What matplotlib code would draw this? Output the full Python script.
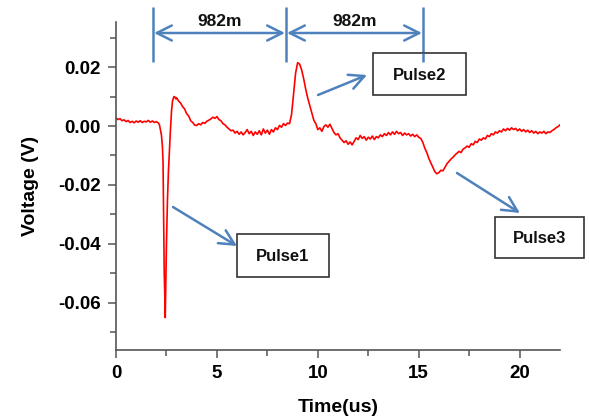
import matplotlib
matplotlib.use("Agg")
import matplotlib.pyplot as plt
from matplotlib.patches import Rectangle, FancyArrowPatch
from matplotlib.ticker import MultipleLocator

plt.rcParams['font.family'] = ['Liberation Sans', 'DejaVu Sans']

# Recorded waveform: time (us) and voltage (V)
time_us = [
    0.0, 0.1, 0.2, 0.3, 0.4, 0.5, 0.6, 0.7, 0.8, 0.9,
    1.0, 1.1, 1.2, 1.3, 1.4, 1.5, 1.6, 1.7, 1.8, 1.9,
    2.0, 2.1, 2.15, 2.2, 2.25, 2.3, 2.33, 2.36, 2.39, 2.42,
    2.44, 2.46, 2.5, 2.55, 2.6, 2.65, 2.7, 2.75, 2.8, 2.87,
    2.92, 2.97, 3.0, 3.1, 3.2, 3.3, 3.4, 3.5, 3.6, 3.7,
    3.8, 3.9, 4.0, 4.1, 4.2, 4.3, 4.4, 4.5, 4.6, 4.7,
    4.8, 4.9, 5.0, 5.1, 5.2, 5.3, 5.4, 5.5, 5.6, 5.7,
    5.8, 5.9, 6.0, 6.1, 6.2, 6.3, 6.4, 6.5, 6.6, 6.7,
    6.8, 6.9, 7.0, 7.1, 7.2, 7.3, 7.4, 7.5, 7.6, 7.7,
    7.8, 7.9, 8.0, 8.1, 8.2, 8.3, 8.4, 8.5, 8.6, 8.7,
    8.8, 8.9, 9.0, 9.1, 9.2, 9.3, 9.4, 9.5, 9.6, 9.7,
    9.8, 9.9, 10.0, 10.1, 10.2, 10.3, 10.4, 10.5, 10.6, 10.7,
    10.8, 10.9, 11.0, 11.1, 11.2, 11.3, 11.4, 11.5, 11.6, 11.7,
    11.8, 11.9, 12.0, 12.1, 12.2, 12.3, 12.4, 12.5, 12.6, 12.7,
    12.8, 12.9, 13.0, 13.1, 13.2, 13.3, 13.4, 13.5, 13.6, 13.7,
    13.8, 13.9, 14.0, 14.1, 14.2, 14.3, 14.4, 14.5, 14.6, 14.7,
    14.8, 14.9, 15.0, 15.1, 15.2, 15.3, 15.4, 15.5, 15.6, 15.7,
    15.8, 15.9, 16.0, 16.1, 16.2, 16.3, 16.4, 16.5, 16.6, 16.7,
    16.8, 16.9, 17.0, 17.1, 17.2, 17.3, 17.4, 17.5, 17.6, 17.7,
    17.8, 17.9, 18.0, 18.1, 18.2, 18.3, 18.4, 18.5, 18.6, 18.7,
    18.8, 18.9, 19.0, 19.1, 19.2, 19.3, 19.4, 19.5, 19.6, 19.7,
    19.8, 19.9, 20.0, 20.1, 20.2, 20.3, 20.4, 20.5, 20.6, 20.7,
    20.8, 20.9, 21.0, 21.1, 21.2, 21.3, 21.4, 21.5, 21.6, 21.7,
    21.8, 21.9, 22.0,
]
voltage_v = [
    0.0028, 0.0022, 0.0025, 0.0018, 0.0021, 0.0015, 0.0019, 0.0012, 0.0016, 0.0011,
    0.0017, 0.0013, 0.0018, 0.0012, 0.0016, 0.0014, 0.0019, 0.0013, 0.0017, 0.0012,
    0.0015, 0.0010, 0.0005, -0.0012, -0.0030, -0.0070, -0.0120, -0.0300, -0.0500, -0.0580,
    -0.0650, -0.0560, -0.0400, -0.0250, -0.0150, -0.0080, -0.0010, 0.0050, 0.0085, 0.0100,
    0.0098, 0.0092, 0.0096, 0.0085, 0.0078, 0.0066, 0.0058, 0.0042, 0.0034, 0.0018,
    0.0012, 0.0003, 0.0002, 0.0008, 0.0004, 0.0012, 0.0009, 0.0016, 0.0020, 0.0024,
    0.0030, 0.0026, 0.0032, 0.0022, 0.0018, 0.0008, 0.0004, -0.0004, -0.0010, -0.0016,
    -0.0014, -0.0024, -0.0018, -0.0028, -0.0020, -0.0030, -0.0022, -0.0012, -0.0026, -0.0018,
    -0.0032, -0.0020, -0.0028, -0.0016, -0.0030, -0.0010, -0.0024, -0.0014, -0.0028, -0.0012,
    -0.0020, -0.0006, -0.0012, 0.0002, -0.0004, 0.0008, 0.0002, 0.0010, 0.0008, 0.0040,
    0.0110, 0.0180, 0.0215, 0.0210, 0.0190, 0.0160, 0.0125, 0.0095, 0.0070, 0.0045,
    0.0020, 0.0008, -0.0012, -0.0006, -0.0018, -0.0002, 0.0004, -0.0004, 0.0006, -0.0008,
    -0.0022, -0.0030, -0.0026, -0.0040, -0.0048, -0.0056, -0.0050, -0.0062, -0.0054, -0.0064,
    -0.0052, -0.0040, -0.0046, -0.0032, -0.0042, -0.0036, -0.0048, -0.0038, -0.0044, -0.0034,
    -0.0046, -0.0036, -0.0040, -0.0030, -0.0036, -0.0026, -0.0032, -0.0022, -0.0030, -0.0020,
    -0.0028, -0.0018, -0.0026, -0.0022, -0.0032, -0.0024, -0.0030, -0.0026, -0.0034, -0.0028,
    -0.0036, -0.0030, -0.0038, -0.0042, -0.0055, -0.0075, -0.0090, -0.0110, -0.0125, -0.0140,
    -0.0155, -0.0162, -0.0158, -0.0150, -0.0152, -0.0140, -0.0128, -0.0120, -0.0112, -0.0106,
    -0.0098, -0.0092, -0.0086, -0.0090, -0.0078, -0.0074, -0.0068, -0.0072, -0.0060, -0.0064,
    -0.0052, -0.0056, -0.0044, -0.0048, -0.0040, -0.0044, -0.0032, -0.0036, -0.0026, -0.0030,
    -0.0020, -0.0024, -0.0016, -0.0020, -0.0010, -0.0016, -0.0008, -0.0014, -0.0006, -0.0012,
    -0.0008, -0.0016, -0.0010, -0.0018, -0.0012, -0.0020, -0.0014, -0.0022, -0.0016, -0.0024,
    -0.0018, -0.0026, -0.0020, -0.0024, -0.0018, -0.0026, -0.0020, -0.0022, -0.0016, -0.0012,
    -0.0006, -0.0002, 0.0004,
]

x_ticks = [0, 5, 10, 15, 20]
y_ticks = [-0.06, -0.04, -0.02, 0.00, 0.02]
y_tick_labels = ["-0.06", "-0.04", "-0.02", "0.00", "0.02"]
pulse_labels = ["Pulse1", "Pulse2", "Pulse3"]
span_label = "982m"

W, H = 589, 420
fig = plt.figure(figsize=(W / 100, H / 100), dpi=100)
ax = fig.add_axes([116 / W, 1 - 350 / H, (560 - 116) / W, (350 - 22) / H])

ax.plot(time_us, voltage_v, color="red", lw=1.2)
ax.set_xlim(0, 22)
ax.set_ylim(-0.076, 0.0353)

spine_c = "#555555"
for side in ("top", "right"):
    ax.spines[side].set_visible(False)
for side in ("left", "bottom"):
    ax.spines[side].set_color(spine_c)
    ax.spines[side].set_linewidth(1.2)

ax.set_xticks(x_ticks)
ax.set_xticklabels([str(v) for v in x_ticks])
ax.set_yticks(y_ticks)
ax.set_yticklabels(y_tick_labels)
ax.xaxis.set_minor_locator(MultipleLocator(2.5))
ax.yaxis.set_minor_locator(MultipleLocator(0.01))
ax.tick_params(which="major", direction="out", length=6, width=1.1, color=spine_c,
               labelsize=13.5, pad=5)
ax.tick_params(which="minor", direction="out", length=4, width=1.1, color=spine_c)
for lab in ax.get_xticklabels() + ax.get_yticklabels():
    lab.set_fontweight("bold")

ax.set_xlabel("Time(us)", fontsize=14, fontweight="bold", labelpad=12)
ax.set_ylabel("Voltage (V)", fontsize=14, fontweight="bold", labelpad=14)

# Overlay in pixel coordinates for the callouts
ov = fig.add_axes([0, 0, 1, 1], zorder=5)
ov.set_xlim(0, W)
ov.set_ylim(H, 0)
ov.axis("off")
ov.patch.set_alpha(0)

blue = "#4F81BD"
arrow_kw = dict(arrowstyle="->,head_length=0.9,head_width=0.45", color=blue, lw=1.8,
                shrinkA=0, shrinkB=0, mutation_scale=12)
dim_kw = dict(arrowstyle="<->,head_length=0.9,head_width=0.45", color=blue, lw=1.8,
              shrinkA=0, shrinkB=0, mutation_scale=12)

# Distance markers between pulses
for xv in (153, 286, 423):
    ov.plot([xv, xv], [7, 62], color=blue, lw=1.8, solid_capstyle="butt")
for x0, x1 in ((153, 286), (286, 423)):
    ov.add_patch(FancyArrowPatch((x0 + 1, 33), (x1 - 1, 33), **dim_kw))
    ov.text((x0 + x1) / 2, 22, span_label, ha="center", va="center",
            fontsize=12.5, fontweight="bold", color="#111111")

# Labelled boxes with pointer arrows
boxes = [
    ((237, 234, 329, 277), (173, 207), (237, 246)),
    ((373, 53, 466, 95), (318, 95), (367, 75)),
    ((495, 217, 584, 258), (457, 173), (520, 213)),
]
for label, ((bx0, by0, bx1, by1), start, end) in zip(pulse_labels, boxes):
    ov.add_patch(Rectangle((bx0, by0), bx1 - bx0, by1 - by0, facecolor="white",
                           edgecolor="#333333", lw=1.2, zorder=3))
    ov.text((bx0 + bx1) / 2, (by0 + by1) / 2 + 1, label, ha="center", va="center",
            fontsize=12, fontweight="bold", color="#111111", zorder=4)
    ov.add_patch(FancyArrowPatch(start, end, zorder=2, **arrow_kw))

# The third distance marker line passes over the Pulse2 box
ov.plot([423, 423], [53, 62], color=blue, lw=1.8, zorder=4, solid_capstyle="butt")

fig.savefig("out.png", dpi=100)
